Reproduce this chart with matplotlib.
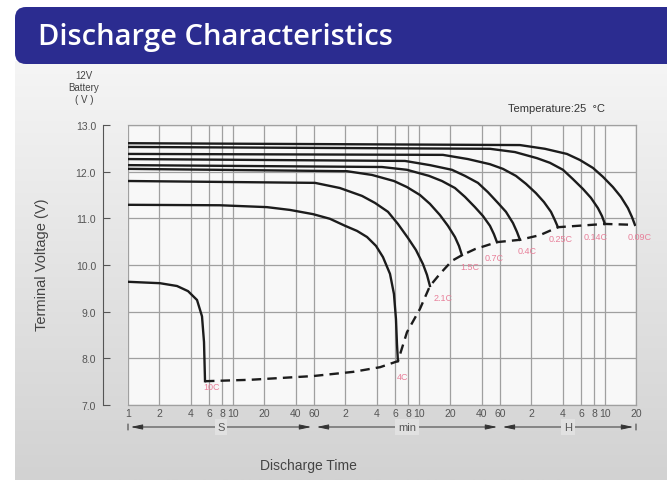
import numpy as np
import matplotlib
matplotlib.use('Agg')
import matplotlib.pyplot as plt
from matplotlib.patches import FancyBboxPatch
from matplotlib.colors import LinearSegmentedColormap
from matplotlib.ticker import NullLocator

# discharge time (seconds) / terminal voltage (V)
t_10c = [1, 2.02, 2.94, 3.75, 4.57, 5.10, 5.33, 5.45]
v_10c = [9.64, 9.61, 9.55, 9.44, 9.25, 8.90, 8.35, 7.51]

t_4c = [1, 7.6, 21.3, 35.4, 58.7, 85.3, 119, 155, 193, 235, 274, 320, 349, 365, 373, 381]
v_4c = [11.29, 11.28, 11.24, 11.18, 11.09, 10.99, 10.84, 10.73, 10.60, 10.41, 10.17, 9.81,
        9.38, 8.84, 8.31, 7.94]

t_21c = [1, 61.4, 106, 173, 230, 306, 381, 475, 567, 661, 722, 771]
v_21c = [11.80, 11.76, 11.65, 11.48, 11.33, 11.14, 10.88, 10.58, 10.32, 10.02, 9.79, 9.55]

t_15c = [1, 124, 215, 349, 465, 619, 771, 961, 1146, 1337, 1460, 1560]
v_15c = [12.06, 12.01, 11.93, 11.80, 11.67, 11.50, 11.31, 11.07, 10.84, 10.60, 10.41, 10.21]

t_07c = [1, 268, 465, 755, 1004, 1337, 1667, 2077, 2477, 2890, 3155, 3371]
v_07c = [12.14, 12.10, 12.04, 11.91, 11.80, 11.65, 11.46, 11.24, 11.05, 10.84, 10.66, 10.49]

t_04c = [1, 445, 771, 1252, 1667, 2218, 2765, 3445, 4110, 4795, 5236, 5594]
v_04c = [12.27, 12.23, 12.14, 12.04, 11.91, 11.76, 11.56, 11.33, 11.14, 10.90, 10.71, 10.54]

t_025c = [1, 1026, 1780, 2890, 3846, 5118, 6381, 7955, 9484, 11070, 12080, 12910]
v_025c = [12.38, 12.36, 12.27, 12.16, 12.06, 11.91, 11.74, 11.54, 11.35, 11.14, 10.96, 10.81]

t_014c = [1, 2890, 5012, 8128, 10820, 14420, 17960, 22390, 26680, 31120, 34030, 36310]
v_014c = [12.53, 12.49, 12.42, 12.29, 12.19, 12.04, 11.84, 11.63, 11.44, 11.22, 11.05, 10.88]

t_009c = [1, 5594, 9702, 15740, 20950, 27920, 34760, 43330, 51640, 60260, 65830, 70310]
v_009c = [12.61, 12.57, 12.49, 12.38, 12.25, 12.08, 11.89, 11.67, 11.46, 11.22, 11.03, 10.86]

# final voltage line (dashed)
t_end = [5.45, 14.7, 58.7, 142, 257, 381, 465, 619, 771, 961, 1252, 1560, 2077,
         3371, 5594, 8690, 12910, 36310, 70310]
v_end = [7.51, 7.54, 7.62, 7.71, 7.81, 7.94, 8.56, 9.06, 9.55, 9.81, 10.09, 10.21,
         10.34, 10.49, 10.54, 10.64, 10.81, 10.88, 10.86]

curve_labels = ['10C', '4C', '2.1C', '1.5C', '0.7C', '0.4C', '0.25C', '0.14C', '0.09C']
label_pos = [(6.36, 7.39), (426, 7.62), (1026, 9.31), (1862, 9.96), (3155, 10.17),
             (6531, 10.32), (13800, 10.56), (29800, 10.62), (78500, 10.62)]

tick_seconds = [1, 2, 4, 6, 8, 10, 20, 40, 60, 120, 240, 360, 480, 600, 1200, 2400,
                3600, 7200, 14400, 21600, 28800, 36000, 72000]
tick_labels = ['1', '2', '4', '6', '8', '10', '20', '40', '60', '2', '4', '6', '8', '10',
               '20', '40', '60', '2', '4', '6', '8', '10', '20']

# time unit ranges (seconds)
units = [('S', 1, 60), ('min', 60, 3600), ('H', 3600, 72000)]

W, H = 667, 481
fig = plt.figure(figsize=(W / 100, H / 100), dpi=100)

# background panel + title banner
bg = fig.add_axes([0, 0, 1, 1], zorder=0)
grad = np.linspace(0, 1, 256).reshape(-1, 1)
cm = LinearSegmentedColormap.from_list('bg', ['#f5f5f5', '#d2d2d2'])
bg.imshow(grad, extent=(15, W, H, 62), cmap=cm, aspect='auto')
bg.add_patch(FancyBboxPatch((15, 8), 720, 57, boxstyle='round,pad=0,rounding_size=11',
                            fc='#2b2c90', ec='none'))
bg.text(38, 38, 'Discharge Characteristics', color='white', fontsize=21,
        fontweight='semibold', family='Open Sans', va='center', ha='left')
bg.set_xlim(0, W)
bg.set_ylim(H, 0)
bg.axis('off')

ax = fig.add_axes([128 / W, 1 - 406 / H, 508 / W, 280 / H], zorder=1)
ax.set_facecolor('#f8f8f8')

curves = [(t_10c, v_10c), (t_4c, v_4c), (t_21c, v_21c), (t_15c, v_15c), (t_07c, v_07c),
          (t_04c, v_04c), (t_025c, v_025c), (t_014c, v_014c), (t_009c, v_009c)]
for t, v in curves:
    ax.plot(t, v, color='#1c1c1c', lw=1.7, zorder=3, solid_joinstyle='round')
ax.plot(t_end, v_end, color='#1c1c1c', lw=1.7, ls=(0, (4, 2.6)), zorder=3)

for lab, (lx, ly) in zip(curve_labels, label_pos):
    ax.text(lx, ly, lab, color='#e8809a', fontsize=6.5, ha='center', va='center',
            family='Liberation Sans', clip_on=False, zorder=4)

ax.set_xscale('log')
ax.set_xlim(1, 72000)
ax.set_ylim(7, 13)
ax.set_xticks(tick_seconds)
ax.set_xticklabels(tick_labels)
ax.xaxis.set_minor_locator(NullLocator())
ax.set_yticks([7, 8, 9, 10, 11, 12, 13])
ax.set_yticklabels(['7.0', '8.0', '9.0', '10.0', '11.0', '12.0', '13.0'])
ax.grid(True, color='#a0a0a0', lw=0.9, zorder=1)
ax.set_axisbelow(True)

for s in ['top', 'bottom', 'right']:
    ax.spines[s].set_color('#a0a0a0')
    ax.spines[s].set_linewidth(0.9)
ax.spines['left'].set_position(('outward', 18))
ax.spines['left'].set_color('#555555')
ax.tick_params(axis='y', direction='in', length=5, color='#555555', pad=5,
               labelsize=7.5, labelcolor='#555555')
ax.tick_params(axis='x', length=0, pad=2, labelsize=7.5, labelcolor='#555555')
for lbl in ax.get_xticklabels() + ax.get_yticklabels():
    lbl.set_family('Liberation Sans')

# unit arrows under the time axis
ya = 1 - 428 / H
for name, t0, t1 in units:
    ax.annotate('', xy=(t0 * 1.06, ya), xytext=(t1 / 1.06, ya),
                xycoords=('data', 'figure fraction'), textcoords=('data', 'figure fraction'),
                arrowprops=dict(arrowstyle='<|-|>,head_length=0.7,head_width=0.15',
                                color='#333333', lw=0.7, shrinkA=0, shrinkB=0))
    tc = np.sqrt(t0 * t1)
    ax.annotate(name, xy=(tc, ya), xycoords=('data', 'figure fraction'), ha='center',
                va='center', fontsize=8, color='#555555', family='Liberation Sans',
                bbox=dict(boxstyle='square,pad=0.25', fc='#e1e1e1', ec='none'))
for te in [1, 72000]:
    ax.annotate('', xy=(te, ya - 0.012), xytext=(te, ya + 0.012),
                xycoords=('data', 'figure fraction'), textcoords=('data', 'figure fraction'),
                arrowprops=dict(arrowstyle='-', color='#444444', lw=0.8))

fig.text(42 / W, 1 - 265 / H, 'Terminal Voltage (V)', rotation=90, ha='center',
         va='center', fontsize=10.5, color='#444444', family='Liberation Sans')
fig.text(308 / W, 1 - 466 / H, 'Discharge Time', ha='center', va='center',
         fontsize=10, color='#444444', family='Liberation Sans')
for txt, yy in [('12V', 76), ('Battery', 88), ('( V )', 100)]:
    fig.text(84 / W, 1 - yy / H, txt, ha='center', va='center', fontsize=7,
             color='#444444', family='Liberation Sans')
fig.text(557 / W, 1 - 109 / H, 'Temperature:25  \u00b0C', ha='center', va='center',
         fontsize=8, color='#333333', family='Liberation Sans')

fig.savefig('out.png', dpi=100)
